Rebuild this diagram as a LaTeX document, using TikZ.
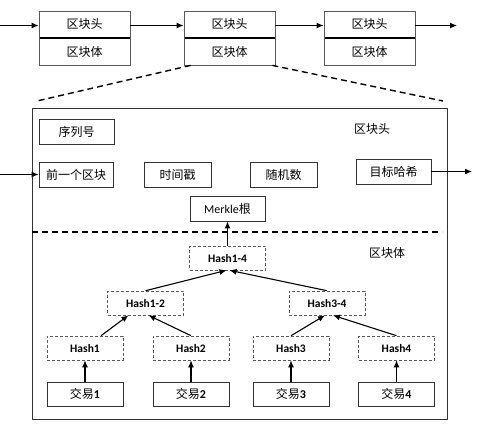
\documentclass[tikz,border=0pt]{standalone}
\usepackage{fontspec}
\setmainfont{Carlito}
\newfontfamily\cjk{Noto Sans CJK SC}
\usetikzlibrary{arrows.meta, positioning}

\begin{document}
\begin{tikzpicture}[x=1pt,y=-1pt,>={Latex[length=7pt,width=6pt]},
        every node/.style={font=\fontsize{12}{14}\selectfont},
        block/.style={draw=black!65, line width=0.8pt, minimum width=91pt, minimum height=27pt, inner sep=0pt},
        field/.style={draw=black!80, line width=0.8pt, minimum width=75pt, minimum height=25pt, inner sep=0pt},
        hashbox/.style={draw=black!65, densely dashed, line width=0.6pt, minimum width=76pt, minimum height=24pt, inner sep=0pt, font=\fontsize{11.5}{14}\selectfont\bfseries},
        link/.style={->, line width=1.1pt},
        zoomline/.style={dashed, dash pattern=on 6pt off 4pt, line width=1.4pt}]

      \useasboundingbox (0,0) rectangle (481,424);

      % the chain
      \node[block] (h_1) at (84.5,24.5)  {\cjk 区块头};
      \node[block] (b_1) at (84.5,51.5)  {\cjk 区块体};
      \node[block] (h_2) at (229.5,24.5) {\cjk 区块头};
      \node[block] (b_2) at (229.5,51.5) {\cjk 区块体};
      \node[block] (h_3) at (369.5,24.5) {\cjk 区块头};
      \node[block] (b_3) at (369.5,51.5) {\cjk 区块体};
      \foreach \i in {1,2,3}
        \draw[line width=2pt] ([xshift=1pt]h_\i.south west) -- (h_\i.south east);

      \coordinate (in_top)  at (0,25.5);
      \coordinate (out_top) at (457,25.5);
      \path[link] (in_top) edge ([yshift=-1pt]h_1.west)
                  ([yshift=-1pt]h_1.east) edge ([yshift=-1pt]h_2.west)
                  ([yshift=-1pt]h_2.east) edge ([yshift=-1pt]h_3.west)
                  ([yshift=-1pt]h_3.east) edge (out_top);

      % zoom into block 2
      \coordinate (zoom_l) at (37,101);
      \coordinate (zoom_r) at (443,101);
      \draw[zoomline] ([xshift=7pt]b_2.south west) -- (zoom_l);
      \draw[zoomline] ([xshift=-3pt]b_2.south east) -- (zoom_r);

      \node[draw=black!80, line width=0.8pt, minimum width=415pt, minimum height=311pt, inner sep=0pt] (detail) at (239.5,263.5) {};

      % header fields
      \node (head_lbl) at (372,129) {\cjk 区块头};
      \node[field] (seq)    at (76.5,132)   {\cjk 序列号};
      \node[field, minimum width=74pt] (prev) at (76,174.5) {\cjk 前一个区块};
      \node[field, minimum width=67pt] (time)  at (177.5,174.5) {\cjk 时间戳};
      \node[field, minimum width=67pt] (nonce) at (283.5,174.5) {\cjk 随机数};
      \node[field] (target) at (393.5,171.5) {\cjk 目标哈希};
      \node[field] (merkle) at (227.5,208.5) {Merkle{\cjk 根}};

      \coordinate (in_prev)    at (0,174.5);
      \coordinate (out_target) at (472,171.5);
      \path[link] (in_prev) edge (prev.west)
                  (target.east) edge (out_target);

      \coordinate (sep_l) at (32,232);
      \coordinate (sep_r) at (442,232);
      \draw[zoomline] (sep_l) -- (sep_r);

      % merkle tree
      \node (body_lbl) at (387,253) {\cjk 区块体};
      \node[hashbox] (hash_14) at (227.5,258) {Hash1-4};
      \node[hashbox] (hash_12) at (145.5,303) {Hash1-2};
      \node[hashbox] (hash_34) at (327,303)   {Hash3-4};
      \node[hashbox] (hash_1)  at (85,348)    {Hash1};
      \node[hashbox] (hash_2)  at (191,348)   {Hash2};
      \node[hashbox] (hash_3)  at (291,348)   {Hash3};
      \node[hashbox] (hash_4)  at (396.5,348) {Hash4};
      \foreach \i/\x in {1/85, 2/191, 3/291, 4/396.5}
        \node[field, minimum width=76pt, minimum height=24pt] (tx_\i) at (\x,394) {{\cjk 交易}\textbf{\i}};

      \path[link] (hash_14.north) edge (merkle.south)
                  (hash_12.north) edge ([xshift=-1pt]hash_14.south)
                  (hash_34.north) edge ([xshift=2pt]hash_14.south)
                  ([xshift=16pt]hash_1.north) edge ([xshift=-17pt]hash_12.south)
                  (hash_2.north) edge ([xshift=3pt]hash_12.south)
                  (hash_3.north) edge ([xshift=-2pt]hash_34.south)
                  (hash_4.north) edge ([xshift=6pt]hash_34.south);
      \foreach \i in {1,...,4}
        \draw[link] (tx_\i) -- (hash_\i);
    \end{tikzpicture}
\end{document}
